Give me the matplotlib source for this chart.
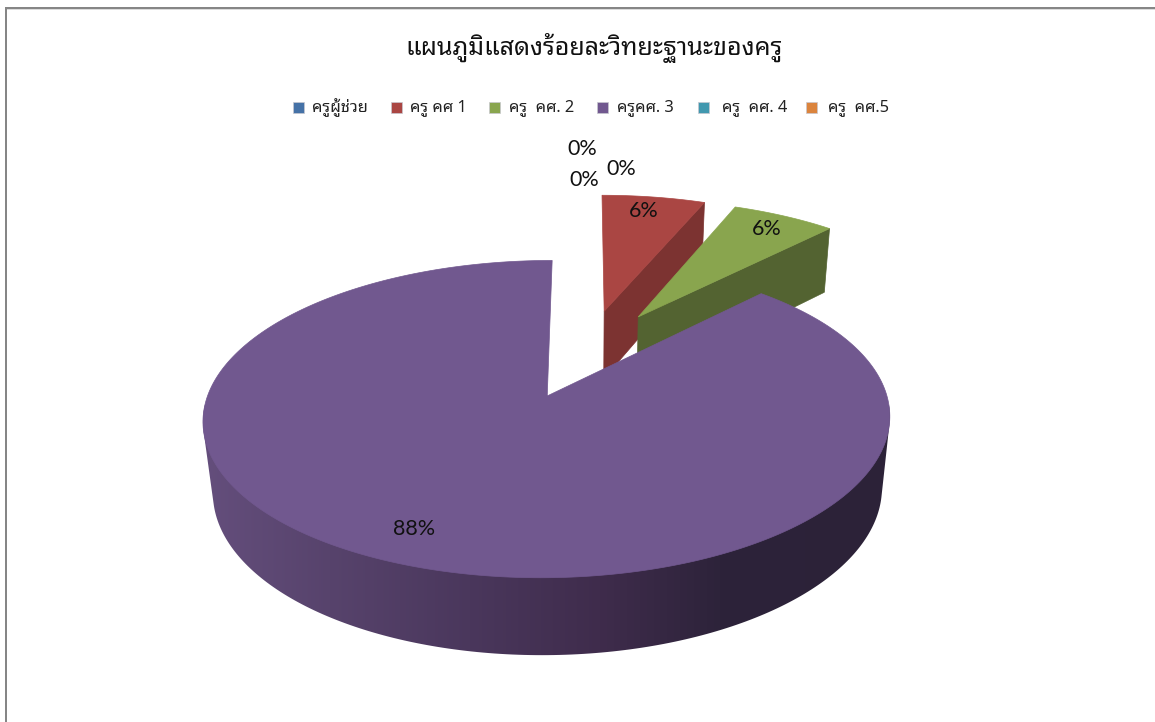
import numpy as np
import matplotlib
matplotlib.use("Agg")
import matplotlib.pyplot as plt
from matplotlib import font_manager as fm
from matplotlib.ft2font import FT2Font
from matplotlib.patches import Polygon, Rectangle

title = "แผนภูมิแสดงร้อยละวิทยะฐานะของครู"
categories = ["ครูผู้ช่วย", "ครู คศ 1", "ครู  คศ. 2", "ครูคศ. 3", "ครู  คศ. 4", "ครู  คศ.5"]
values = [0, 6, 6, 88, 0, 0]
colors_top = ["#4572a7", "#aa4643", "#89a54e", "#71588f", "#4198af", "#db843d"]
colors_wall = {1: "#7c3331", 2: "#536331"}
swatch_x = [293, 391, 489, 597, 698, 806]
text_x = [312, 410, 509, 617, 722, 828]
label_pos = [(582, 149), (644, 211), (767, 229), (414, 529), (584, 180), (621, 169)]

# find a font which holds Thai glyphs
thai = None
for f in fm.fontManager.ttflist:
    try:
        if 0x0E01 in FT2Font(f.fname).get_charmap():
            thai = f.name
            if f.name.startswith(("Noto Sans", "Liberation Sans", "DejaVu Sans")):
                break
    except Exception:
        pass
thai_family = [thai, "DejaVu Sans"] if thai else ["DejaVu Sans"]

fig = plt.figure(figsize=(11.55, 7.22), dpi=100, facecolor="white")
ax = fig.add_axes([0, 0, 1, 1])
ax.set_xlim(0, 1155)
ax.set_ylim(722, 0)
ax.axis("off")

# projection of the pie plane to the page
X0, Y0, R, A, K, D, ZK = 586, 353, 326, 143, 0.140, 71, 0.025
EXPLODE = 0.31

def project(u, v, z=0.0):
    w = 1 + K * np.asarray(v) + ZK * z
    return X0 + R * np.asarray(u) / w, Y0 - A * np.asarray(v) / w + D * z / w

def wedge(i):
    total = sum(values)
    start = np.deg2rad(360 * sum(values[:i]) / total)
    end = np.deg2rad(360 * sum(values[:i + 1]) / total)
    mid = (start + end) / 2
    cu, cv = EXPLODE * np.sin(mid), EXPLODE * np.cos(mid)
    t = np.linspace(start, end, 360)
    return cu, cv, t

def hull(points):
    pts = sorted(map(tuple, points))
    def half(seq):
        out = []
        for p in seq:
            while len(out) > 1 and ((out[-1][0] - out[-2][0]) * (p[1] - out[-2][1])
                                    - (out[-1][1] - out[-2][1]) * (p[0] - out[-2][0])) <= 0:
                out.pop()
            out.append(p)
        return out[:-1]
    return np.array(half(pts) + half(pts[::-1]))

ramp_x = np.array([205, 330, 470, 600, 720, 890])
ramp_rgb = np.array([[0x64, 0x4e, 0x7c], [0x57, 0x43, 0x6c], [0x4a, 0x37, 0x5c],
                     [0x3f, 0x2c, 0x4c], [0x2d, 0x23, 0x3a], [0x2c, 0x22, 0x38]]) / 255

# red and green slices sit behind the big slice
for i in (1, 2):
    cu, cv, t = wedge(i)
    ru, rv = cu + np.sin(t), cv + np.cos(t)
    x0, y0 = project(cu, cv, 0)
    x1, y1 = project(cu, cv, 1)
    xe, ye = project(ru[-1], rv[-1], 0)
    xf, yf = project(ru[-1], rv[-1], 1)
    ax.add_patch(Polygon([(x0, y0), (xe, ye), (xf, yf), (x1, y1)], closed=True,
                         fc=colors_wall[i], ec=colors_wall[i], lw=0.5, zorder=2 + i))
    xr, yr = project(ru, rv, 0)
    ax.add_patch(Polygon(np.r_[[[x0, y0]], np.c_[xr, yr]], closed=True,
                         fc=colors_top[i], ec=colors_top[i], lw=0.5, zorder=2.5 + i))

# big slice: outer wall shaded across the page, then the top
cu, cv, t = wedge(3)
ru, rv = cu + np.sin(t), cv + np.cos(t)
xt, yt = project(ru, rv, 0)
xb, yb = project(ru, rv, 1)
front = np.cos(t) < -0.05
outline = hull(np.r_[np.c_[xt[front], yt[front]], np.c_[xb[front], yb[front]]])
wall = Polygon(outline, closed=True, fc="none", ec="none", zorder=6)
ax.add_patch(wall)
grad_x = np.arange(190, 900)
grad = np.stack([np.interp(grad_x, ramp_x, ramp_rgb[:, c]) for c in range(3)], axis=-1)[None, :, :]
im = ax.imshow(grad, extent=(190, 900, 722, 300), aspect="auto", interpolation="bilinear", zorder=6)
im.set_clip_path(wall)
ax.set_xlim(0, 1155)
ax.set_ylim(722, 0)
x0, y0 = project(cu, cv, 0)
ax.add_patch(Polygon(np.r_[[[x0, y0]], np.c_[xt, yt]], closed=True,
                     fc=colors_top[3], ec=colors_top[3], lw=0.5, zorder=7))

# percentage labels
total = sum(values)
for v, (px, py) in zip(values, label_pos):
    ax.text(px, py, f"{round(100 * v / total)}%", ha="center", va="center",
            fontsize=15.5, family="Lato", color="#111111", zorder=9)

# title and legend
ax.text(594, 48, title, ha="center", va="center", fontsize=18, family=thai_family,
        color="#111111", fontweight="bold", zorder=9)
for c, sx, tx, name in zip(colors_top, swatch_x, text_x, categories):
    ax.add_patch(Rectangle((sx, 102), 11, 11, fc=c, ec="#c8c8d0", lw=0.5, zorder=9))
    ax.text(tx, 108, name, ha="left", va="center", fontsize=11.8, family=thai_family,
            color="#222222", zorder=9)

# outer frame, top and left only
ax.add_patch(Rectangle((5, 9), 1150, 1.2, fc="#dcdcdc", ec="none", zorder=1))
ax.add_patch(Rectangle((5, 7), 1150, 2, fc="#868686", ec="none", zorder=1))
ax.add_patch(Rectangle((5, 7), 2, 715, fc="#868686", ec="none", zorder=1))

fig.savefig("out.png", dpi=100, facecolor="white")
